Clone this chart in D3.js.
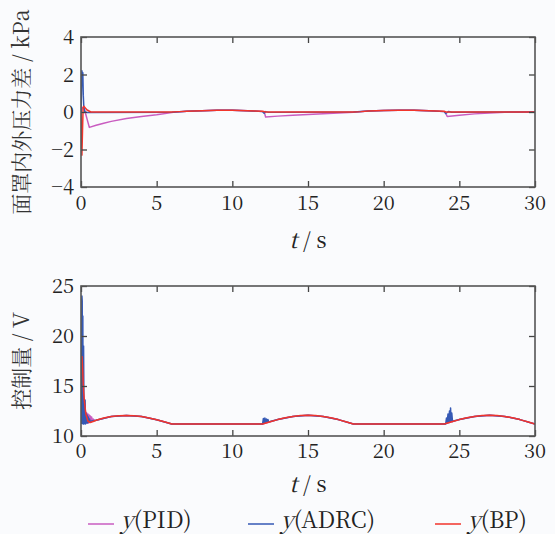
<!DOCTYPE html>
<html>
<head>
<meta charset="utf-8">
<script src="https://cdn.jsdelivr.net/npm/d3@7"></script>
</head>
<body style="margin:0">
<script>
// x ticks and y ticks
const xTicks = [0, 5, 10, 15, 20, 25, 30];
const pTicks = [-4, -2, 0, 2, 4];
const uTicks = [10, 15, 20, 25];

// top panel: pressure difference (kPa)
const tPidP  = [0, 0.08, 0.18, 0.55, 1, 1.5, 2, 3, 4, 5, 6.1, 7, 8, 9, 10, 11, 12.1, 12.2, 13, 14, 15, 16, 17, 18, 19, 20, 21, 22, 23, 24.05, 24.2, 25, 26, 27, 28, 29, 30];
const pPid   = [0, 0.2, 0.28, -0.82, -0.71, -0.6, -0.5, -0.35, -0.24, -0.15, -0.02, 0.04, 0.07, 0.09, 0.09, 0.07, 0.02, -0.27, -0.22, -0.17, -0.13, -0.09, -0.05, -0.01, 0.05, 0.08, 0.09, 0.09, 0.07, 0.02, -0.24, -0.17, -0.1, -0.05, -0.02, -0.01, 0];
const tAdrcP = [0, 0.06, 0.09, 0.12, 0.15, 0.19, 0.25, 0.4, 6, 7, 8, 9, 10, 11, 12, 12.1, 12.2, 12.4, 18, 19, 20, 21, 22, 23, 24, 24.1, 24.3, 24.5, 30];
const pAdrc  = [0, 2.2, 1.6, 2.1, 0.9, 0.2, 0, -0.02, -0.01, 0.04, 0.07, 0.09, 0.09, 0.07, 0.02, -0.06, 0.02, -0.02, 0, 0.05, 0.08, 0.09, 0.09, 0.07, 0.02, -0.08, 0.03, -0.01, 0];
const tBpP   = [0, 0.06, 0.1, 0.14, 0.2, 0.38, 0.65, 3, 6, 6.5, 7, 8, 9, 10, 11, 12, 12.2, 15, 18, 18.5, 19, 20, 21, 22, 23, 24, 24.1, 27, 30];
const pBp    = [0, -2.3, -1, 0.25, 0.3, 0.12, 0, 0, 0, 0.02, 0.04, 0.07, 0.09, 0.09, 0.07, 0.04, 0, 0, 0, 0.02, 0.05, 0.08, 0.09, 0.09, 0.07, 0.04, 0, 0, 0];

// bottom panel: control voltage (V)
const tBpU = [0.06, 0.1, 0.14, 0.18, 0.23, 0.32, 0.45, 0.6, 0.8, 1, 1.5, 2, 2.5, 3, 3.5, 4, 4.5, 5, 5.5, 6,
  12, 12.5, 13, 13.5, 14, 14.5, 15, 15.5, 16, 16.5, 17, 17.5, 18,
  24, 24.5, 25, 25.5, 26, 26.5, 27, 27.5, 28, 28.5, 29, 29.5, 30];
const uBp  = [18, 17, 15.5, 14.3, 13.4, 12.2, 11.5, 11.35, 11.45, 11.58, 11.8, 11.95, 12.03, 12.06, 12.03, 11.95, 11.8, 11.62, 11.42, 11.2,
  11.2, 11.43, 11.64, 11.82, 11.96, 12.05, 12.08, 12.05, 11.96, 11.82, 11.64, 11.43, 11.2,
  11.2, 11.43, 11.64, 11.82, 11.96, 12.05, 12.08, 12.05, 11.96, 11.82, 11.64, 11.43, 11.2];
const tPidU = [0.05, 0.3, 0.34, 0.38, 0.42, 0.46, 0.5, 0.54, 0.58, 0.62, 0.66, 0.7, 0.75, 0.8, 0.9, 1, 2, 3, 4, 5, 6, 12, 13, 14, 15, 16, 17, 18, 24, 25, 26, 27, 28, 29, 30];
const uPid  = [11.2, 12.4, 11.3, 12.3, 11.3, 12.2, 11.3, 12.1, 11.4, 12, 11.4, 11.9, 11.5, 11.7, 11.55, 11.58, 11.95, 12.06, 11.95, 11.62, 11.2, 11.2, 11.64, 11.96, 12.08, 11.96, 11.64, 11.2, 11.2, 11.64, 11.96, 12.08, 11.96, 11.64, 11.2];
const tAdrcU = [0.04, 0.06, 0.08, 0.1, 0.12, 0.14, 0.17, 0.2, 0.23, 0.27, 0.3, 0.33, 0.36, 0.4, 0.44, 0.48, 0.52, 0.56, 0.6, 0.7, 1, 2, 3, 4, 5, 6,
  12, 12.05, 12.1, 12.15, 12.2, 12.25, 12.3, 12.35, 12.4, 12.5, 13, 14, 15, 16, 17, 18,
  24.1, 24.15, 24.2, 24.25, 24.3, 24.35, 24.4, 24.42, 24.45, 24.5, 24.55, 24.6, 25, 26, 27, 28, 29, 30];
const uAdrc  = [11.2, 24, 23.5, 11.3, 22, 11.2, 19, 11.2, 11.3, 13.6, 11.2, 12.3, 11.3, 12.1, 11.3, 11.9, 11.4, 11.7, 11.45, 11.5, 11.58, 11.95, 12.06, 11.95, 11.62, 11.2,
  11.2, 11.75, 11.3, 11.8, 11.35, 11.7, 11.4, 11.65, 11.42, 11.45, 11.64, 11.96, 12.08, 11.96, 11.64, 11.2,
  11.2, 11.8, 11.3, 12.2, 11.35, 12.5, 11.4, 12.8, 11.5, 12.3, 11.45, 11.5, 11.64, 11.96, 12.08, 11.96, 11.64, 11.2];

const legendNames = ["PID", "ADRC", "BP"];
const colors = ["#c95cc0", "#3559b5", "#f2352b"];

const W = 555, H = 534;
const left = 81, right = 535;
// the serif CJK face renders reliably here and carries serif latin glyphs too
const serif = '"Noto Serif CJK SC"';
const cjk = '"Noto Serif CJK SC"';

const svg = d3.select("body").append("svg")
  .attr("width", W)
  .attr("height", H)
  .style("display", "block");

svg.append("rect").attr("width", W).attr("height", H).attr("fill", "#fafbfd");

const x = d3.scaleLinear().domain([0, 30]).range([left, right]);

function zip(ts, vs) {
  return ts.map((t, i) => [t, vs[i]]);
}

// plain text helper, font set inline on each element
function label(parent, px, py, size, str, anchor) {
  return parent.append("text")
    .attr("x", px).attr("y", py)
    .attr("font-size", size)
    .attr("text-anchor", anchor || "start")
    .attr("fill", "#222")
    .style("font-family", serif)
    .text(str);
}

function panel(top, bottom, domain, ticks, series, ylabel, tlabelY, xlabelY) {
  const y = d3.scaleLinear().domain(domain).range([bottom, top]);

  const line = d3.line().x(d => x(d[0])).y(d => y(d[1]));
  const clipId = "clip" + top;
  svg.append("clipPath").attr("id", clipId)
    .append("rect").attr("x", left).attr("y", top).attr("width", right - left).attr("height", bottom - top);

  series.forEach((s, i) => {
    svg.append("path")
      .attr("clip-path", "url(#" + clipId + ")")
      .attr("d", line(s))
      .attr("fill", "none")
      .attr("stroke", colors[i])
      .attr("stroke-width", 1.5)
      .attr("stroke-linejoin", "round");
  });

  // inward ticks on all four sides, no labels from the axis itself
  const g = svg.append("g");
  g.append("g").attr("transform", `translate(0,${bottom})`)
    .call(d3.axisBottom(x).tickValues(xTicks).tickSizeInner(-6).tickSizeOuter(0).tickFormat(""));
  g.append("g").attr("transform", `translate(0,${top})`)
    .call(d3.axisTop(x).tickValues(xTicks).tickSizeInner(-6).tickSizeOuter(0).tickFormat(""));
  g.append("g").attr("transform", `translate(${left},0)`)
    .call(d3.axisLeft(y).tickValues(ticks).tickSizeInner(-6).tickSizeOuter(0).tickFormat(""));
  g.append("g").attr("transform", `translate(${right},0)`)
    .call(d3.axisRight(y).tickValues(ticks).tickSizeInner(-6).tickSizeOuter(0).tickFormat(""));
  g.selectAll(".domain").remove();
  g.selectAll(".tick line").attr("stroke", "#444").attr("stroke-width", 1.3);

  // tick labels
  xTicks.forEach(v => label(svg, x(v), tlabelY, 20, String(v), "middle"));
  ticks.forEach(v => label(svg, left - 7, y(v) + 7, 20, v < 0 ? "\u2212" + Math.abs(v) : String(v), "end"));

  svg.append("rect")
    .attr("x", left).attr("y", top)
    .attr("width", right - left).attr("height", bottom - top)
    .attr("fill", "none").attr("stroke", "#555").attr("stroke-width", 1.6);

  // y label
  const yl = svg.append("text")
    .attr("transform", `translate(29,${(top + bottom) / 2}) rotate(-90)`)
    .attr("text-anchor", "middle")
    .attr("font-size", 21)
    .attr("fill", "#333")
    .style("font-family", cjk);
  const parts = ylabel.split(" / ");
  yl.append("tspan").text(parts[0]);
  yl.append("tspan").attr("font-size", 22).text(" / " + parts[1]);

  // x label
  const xl = svg.append("text")
    .attr("x", (left + right) / 2)
    .attr("y", xlabelY)
    .attr("text-anchor", "middle")
    .attr("font-size", 22)
    .attr("fill", "#222")
    .style("font-family", serif);
  xl.append("tspan").style("font-style", "italic").text("t");
  xl.append("tspan").text(" / s");
}

panel(37, 187, [-4, 4], pTicks,
  [zip(tPidP, pPid), zip(tAdrcP, pAdrc), zip(tBpP, pBp)],
  "面罩内外压力差 / kPa", 210, 248);

panel(286, 436, [10, 25], uTicks,
  [zip(tPidU, uPid), zip(tAdrcU, uAdrc), zip(tBpU, uBp)],
  "控制量 / V", 458, 492);

// legend
const legX = [88, 248, 435];
legendNames.forEach((name, i) => {
  svg.append("line")
    .attr("x1", legX[i]).attr("x2", legX[i] + 26)
    .attr("y1", 524).attr("y2", 524)
    .attr("stroke", colors[i]).attr("stroke-width", 1.5);
  const t = label(svg, legX[i] + 33, 528, 23, "");
  t.append("tspan").style("font-style", "italic").text("y");
  t.append("tspan").text("(" + name + ")");
});
</script>
</body>
</html>
